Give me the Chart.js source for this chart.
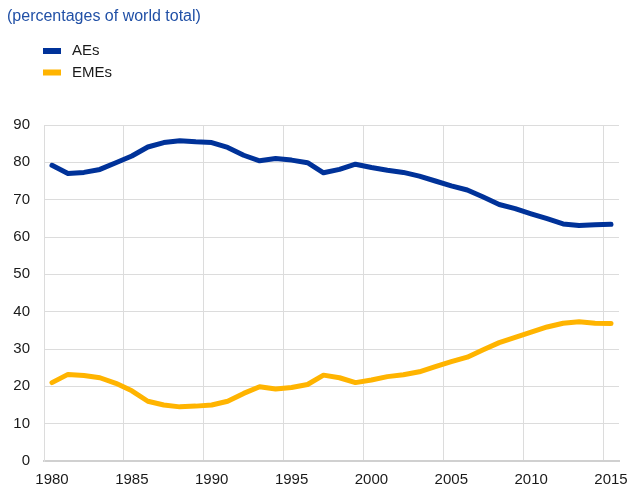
<!DOCTYPE html>
<html>
<head>
<meta charset="utf-8">
<script src="https://cdn.jsdelivr.net/npm/chart.js@4"></script>
<style>
  html, body { margin: 0; padding: 0; background: #fff; }
  #wrap { width: 630px; height: 490px; position: relative; }
</style>
</head>
<body>
<div id="wrap"><canvas id="chart"></canvas></div>
<script>
const years = Array.from({ length: 36 }, (_, i) => String(1980 + i));

const aes = [
  79.2, 77.0, 77.3, 78.1, 79.9, 81.7, 84.1, 85.3, 85.8, 85.5,
  85.3, 84.0, 81.9, 80.4, 81.0, 80.6, 79.9, 77.2, 78.1, 79.5,
  78.6, 77.9, 77.3, 76.3, 75.0, 73.7, 72.6, 70.7, 68.7, 67.6,
  66.2, 64.9, 63.5, 63.1, 63.3, 63.4
];

const emes = [
  21.0, 23.2, 22.9, 22.3, 20.8, 18.8, 16.0, 15.0, 14.5, 14.7,
  15.0, 16.0, 18.1, 19.9, 19.3, 19.7, 20.5, 23.0, 22.3, 21.0,
  21.7, 22.6, 23.1, 23.9, 25.3, 26.6, 27.8, 29.8, 31.7, 33.1,
  34.5, 35.9, 36.9, 37.3, 36.9, 36.8
];

const yTicks = [0, 10, 20, 30, 40, 50, 60, 70, 80, 90];
const subtitle = "(percentages of world total)";

const FONT = "'Liberation Sans', Arial, sans-serif";
const GRID = "#dcdcdc";

// title + two-row legend in the top strip
const headerPlugin = {
  id: "header",
  afterDraw(chart) {
    const { ctx } = chart;
    ctx.save();
    ctx.textBaseline = "middle";
    ctx.textAlign = "left";
    ctx.font = `16px ${FONT}`;
    ctx.fillStyle = "#2150a6";
    ctx.fillText(subtitle, 7, 17);

    ctx.font = `15px ${FONT}`;
    chart.data.datasets.forEach((ds, i) => {
      const y = 51 + i * 21.5;
      ctx.fillStyle = ds.borderColor;
      ctx.fillRect(43, y - 3, 18, 6);
      ctx.fillStyle = "#1a1a1a";
      ctx.fillText(ds.label, 72, y);
    });
    ctx.restore();
  }
};

new Chart(document.getElementById("chart"), {
  type: "line",
  data: {
    labels: years,
    datasets: [
      { label: "AEs", data: aes, borderColor: "#003299" },
      { label: "EMEs", data: emes, borderColor: "#ffb400" }
    ]
  },
  plugins: [headerPlugin],
  options: {
    responsive: true,
    maintainAspectRatio: false,
    animation: false,
    layout: { padding: { top: 125, left: 0, right: 11, bottom: 0 } },
    elements: {
      line: { borderWidth: 5, tension: 0, borderCapStyle: "round", borderJoinStyle: "round" },
      point: { radius: 0 }
    },
    plugins: {
      legend: { display: false },
      tooltip: { enabled: false }
    },
    scales: {
      x: {
        offset: true,
        grid: {
          offset: true,
          drawTicks: false,
          color: c => (c.index % 5 === 0 && c.index < years.length ? GRID : "transparent")
        },
        border: { display: true, color: "#d0d0d0", width: 2 },
        ticks: {
          autoSkip: false,
          maxRotation: 0,
          padding: 10,
          color: "#1a1a1a",
          font: { family: FONT, size: 15 },
          callback: (v, i) => (i % 5 === 0 ? years[i] : "")
        },
        afterFit: axis => {
          axis.height = 29;
          axis.paddingLeft = 0;
          axis.paddingRight = 0;
        }
      },
      y: {
        min: 0,
        max: 90,
        afterBuildTicks: axis => { axis.ticks = yTicks.map(value => ({ value })); },
        grid: { drawTicks: false, color: GRID },
        border: { display: true, color: GRID },
        ticks: {
          padding: 14,
          color: "#1a1a1a",
          font: { family: FONT, size: 15 }
        },
        afterFit: axis => { axis.width = 44; }
      }
    }
  }
});
</script>
</body>
</html>
